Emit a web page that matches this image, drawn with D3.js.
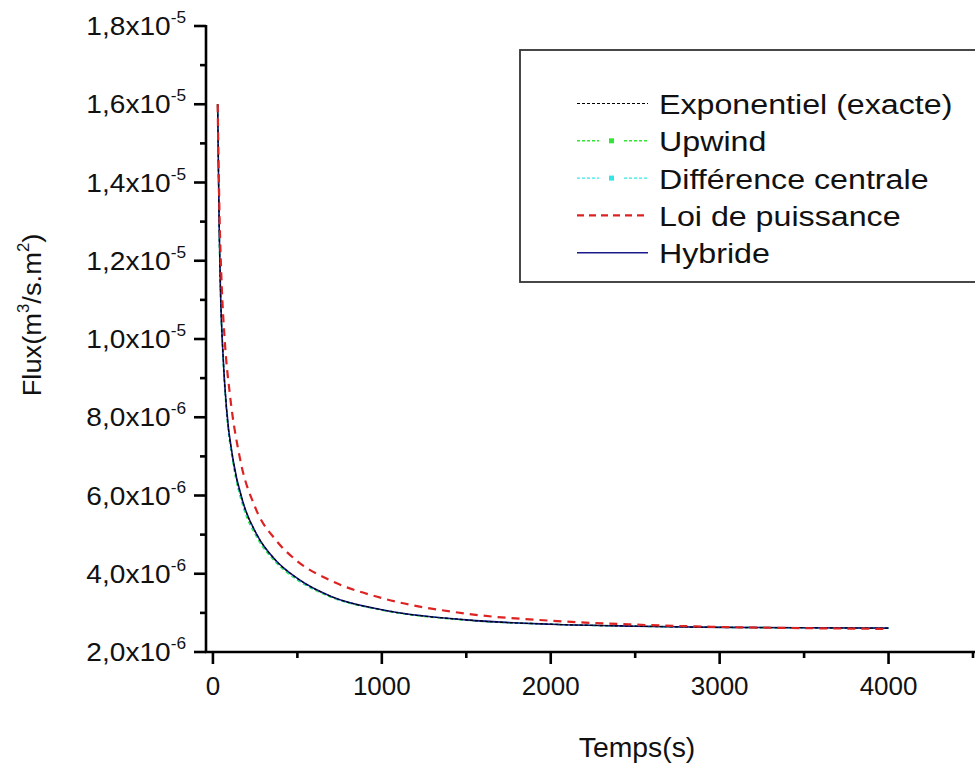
<!DOCTYPE html>
<html>
<head>
<meta charset="utf-8">
<script src="https://cdn.jsdelivr.net/npm/d3@7"></script>
<style>
  html, body { margin: 0; padding: 0; background: #fff; }
  svg { display: block; font-family: "Liberation Sans", Arial, sans-serif; }
</style>
</head>
<body>
<svg id="chart" width="975" height="765"></svg>
<script>
"use strict";

/* ── Data (flux in units of 1e-6 m3/s.m2) ─────────────────── */
const timeMain    = [28, 32, 37, 45, 61, 81, 120, 180, 260, 370, 500, 700, 1000, 1500, 2000, 2500, 3000, 3500, 4000];
const fluxExact   = [16.0, 14.6, 12.9, 11.2, 9.5, 8.2, 6.9, 5.8, 5.0, 4.35, 3.88, 3.42, 3.08, 2.82, 2.71, 2.66, 2.63, 2.62, 2.61];
const fluxUpwind  = [16.0, 14.5, 12.8, 11.1, 9.4, 8.1, 6.8, 5.7, 4.93, 4.3, 3.84, 3.4, 3.07, 2.81, 2.71, 2.66, 2.63, 2.62, 2.61];
const fluxCentral = [16.0, 14.6, 12.9, 11.2, 9.5, 8.15, 6.85, 5.76, 4.97, 4.33, 3.86, 3.41, 3.08, 2.82, 2.71, 2.66, 2.63, 2.62, 2.61];
const fluxHybrid  = [16.0, 14.6, 12.9, 11.2, 9.5, 8.2, 6.9, 5.8, 5.0, 4.35, 3.88, 3.42, 3.08, 2.82, 2.71, 2.66, 2.63, 2.62, 2.61];

const timePower   = [28, 33, 40, 50, 71, 100, 160, 250, 375, 500, 700, 1000, 1500, 2000, 2500, 3000, 3500, 4000];
const fluxPower   = [16.0, 14.6, 13.0, 11.6, 9.9, 8.6, 6.95, 5.7, 4.85, 4.32, 3.82, 3.38, 2.98, 2.8, 2.7, 2.64, 2.61, 2.59];

const yMajorTicks = [2, 4, 6, 8, 10, 12, 14, 16, 18];
const yTickLabels = ["2,0x10", "4,0x10", "6,0x10", "8,0x10", "1,0x10", "1,2x10", "1,4x10", "1,6x10", "1,8x10"];
const yTickExps   = ["-6", "-6", "-6", "-6", "-5", "-5", "-5", "-5", "-5"];
const yMinorTicks = [3, 5, 7, 9, 11, 13, 15, 17];
const xMajorTicks = [0, 1000, 2000, 3000, 4000];
const xMinorTicks = [500, 1500, 2500, 3500, 4500];

const legendNames = ["Exponentiel (exacte)", "Upwind", "Différence centrale", "Loi de puissance", "Hybride"];

/* ── Layout ─────────────────────────────────────────────── */
const svg = d3.select("#chart");
const X0 = 206, X1 = 973, Y0 = 652, Y1 = 26;
const SX = 1.15;   // horizontal stretch of the original export

const x = d3.scaleLinear().domain([-41, 4500]).range([X0, X1]);
const y = d3.scaleLinear().domain([2, 18]).range([Y0, Y1]);

/* ── Series ─────────────────────────────────────────────── */
const series = [
  { t: timeMain,  v: fluxUpwind,  color: "#33e633", width: 1.5, dash: "4,3" },
  { t: timeMain,  v: fluxCentral, color: "#33e6e6", width: 1.5, dash: "4,3" },
  { t: timeMain,  v: fluxHybrid,  color: "#1a1a8c", width: 1.6, dash: null },
  { t: timeMain,  v: fluxExact,   color: "#000000", width: 1.2, dash: "3,2" },
  { t: timePower, v: fluxPower,   color: "#dd2222", width: 2.2, dash: "8,6" }
];

const line = d3.line()
  .x(d => x(d[0]))
  .y(d => y(d[1]))
  .curve(d3.curveMonotoneX);

const plot = svg.append("g");
series.forEach(s => {
  plot.append("path")
    .attr("d", line(d3.zip(s.t, s.v)))
    .attr("fill", "none")
    .attr("stroke", s.color)
    .attr("stroke-width", s.width)
    .attr("stroke-dasharray", s.dash);
});

/* ── Axes ────────────────────────────────────────────────── */
const axes = svg.append("g").attr("stroke", "#000");
axes.append("line").attr("x1", X0).attr("x2", X0).attr("y1", Y1 - 1).attr("y2", Y0 + 1).attr("stroke-width", 2.6);
axes.append("line").attr("x1", X0 - 1).attr("x2", 975).attr("y1", Y0).attr("y2", Y0).attr("stroke-width", 2.6);

axes.selectAll(".ymaj").data(yMajorTicks).join("line")
  .attr("x1", X0 - 12).attr("x2", X0).attr("y1", d => y(d)).attr("y2", d => y(d)).attr("stroke-width", 2.6);
axes.selectAll(".ymin").data(yMinorTicks).join("line")
  .attr("x1", X0 - 6).attr("x2", X0).attr("y1", d => y(d)).attr("y2", d => y(d)).attr("stroke-width", 2.6);
axes.selectAll(".xmaj").data(xMajorTicks).join("line")
  .attr("x1", d => x(d)).attr("x2", d => x(d)).attr("y1", Y0).attr("y2", Y0 + 12).attr("stroke-width", 2.6);
axes.selectAll(".xmin").data(xMinorTicks).join("line")
  .attr("x1", d => x(d)).attr("x2", d => x(d)).attr("y1", Y0).attr("y2", Y0 + 6).attr("stroke-width", 2.6);

/* Y tick labels */
yMajorTicks.forEach((v, i) => {
  const t = svg.append("text")
    .attr("transform", `translate(186,${y(v) + 9}) scale(1.08,1)`)
    .attr("text-anchor", "end")
    .attr("font-size", 26)
    .attr("fill", "#111");
  t.append("tspan").text(yTickLabels[i]);
  t.append("tspan").attr("font-size", 16).attr("dy", -12).text(yTickExps[i]);
});

/* X tick labels */
xMajorTicks.forEach(v => {
  svg.append("text")
    .attr("transform", `translate(${x(v)},695) scale(1.0,1)`)
    .attr("text-anchor", "middle")
    .attr("font-size", 26)
    .attr("fill", "#111")
    .text(v);
});

/* Axis titles */
svg.append("text")
  .attr("transform", "translate(637,757) scale(1.05,1)")
  .attr("text-anchor", "middle")
  .attr("font-size", 27)
  .attr("fill", "#111")
  .text("Temps(s)");

const yt = svg.append("text")
  .attr("transform", "translate(41,315) rotate(-90) scale(1.05,1)")
  .attr("text-anchor", "middle")
  .attr("font-size", 26)
  .attr("fill", "#111");
yt.append("tspan").text("Flux(m");
yt.append("tspan").attr("font-size", 16).attr("dy", -12).text("3");
yt.append("tspan").attr("dy", 12).text("/s.m");
yt.append("tspan").attr("font-size", 16).attr("dy", -12).text("2");
yt.append("tspan").attr("dy", 12).text(")");

/* ── Legend ─────────────────────────────────────────────── */
const leg = svg.append("g");
leg.append("rect")
  .attr("x", 520).attr("y", 50).attr("width", 480).attr("height", 232)
  .attr("fill", "#fff").attr("stroke", "#333").attr("stroke-width", 1.8);

legendNames.forEach((name, i) => {
  const s = series[[3, 0, 1, 4, 2][i]];
  const base = 114 + i * 37.3;
  const ly = base - 10.5;
  if (i === 1 || i === 2) {
    [[577, 599], [624, 648]].forEach(([a, b]) => {
      leg.append("line").attr("x1", a).attr("x2", b).attr("y1", ly).attr("y2", ly)
        .attr("stroke", s.color).attr("stroke-width", 1.4).attr("stroke-dasharray", "3,2");
    });
    leg.append("rect").attr("x", 609).attr("y", ly - 2.5).attr("width", 5).attr("height", 5)
      .attr("fill", s.color);
  } else {
    leg.append("line").attr("x1", 577).attr("x2", 648).attr("y1", ly).attr("y2", ly)
      .attr("stroke", s.color).attr("stroke-width", s.width)
      .attr("stroke-dasharray", i === 0 ? "3,2" : i === 3 ? "7,5" : null);
  }
  leg.append("text")
    .attr("transform", `translate(659,${base}) scale(${SX},1)`)
    .attr("font-size", 28)
    .attr("fill", "#111")
    .text(name);
});
</script>
</body>
</html>
